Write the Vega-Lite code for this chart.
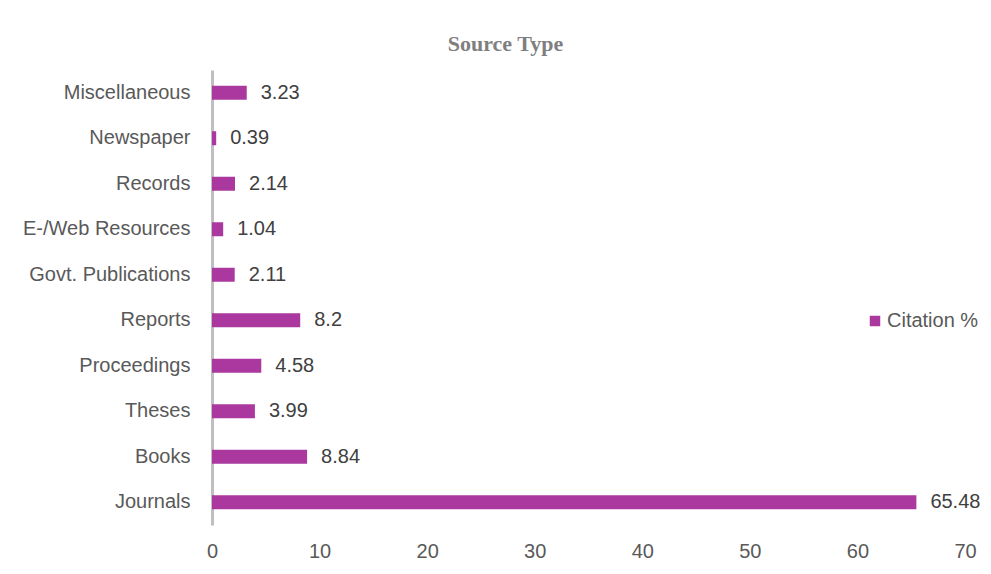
{
  "$schema": "https://vega.github.io/schema/vega-lite/v6.json",
  "autosize": "none",
  "width": 753,
  "height": 455,
  "padding": {"left": 212, "top": 70, "right": 26, "bottom": 49},
  "background": "white",
  "config": {"view": {"stroke": null}, "font": "Liberation Sans"},
  "title": {
    "text": "Source Type",
    "font": "Liberation Serif",
    "fontSize": 22,
    "fontWeight": "bold",
    "color": "#7f7f7f",
    "anchor": "middle",
    "dx": -83,
    "offset": 14
  },
  "data": {
    "values": [
      {"source": "Miscellaneous", "value": 3.23, "series": "Citation %"},
      {"source": "Newspaper", "value": 0.39, "series": "Citation %"},
      {"source": "Records", "value": 2.14, "series": "Citation %"},
      {"source": "E-/Web Resources", "value": 1.04, "series": "Citation %"},
      {"source": "Govt. Publications", "value": 2.11, "series": "Citation %"},
      {"source": "Reports", "value": 8.2, "series": "Citation %"},
      {"source": "Proceedings", "value": 4.58, "series": "Citation %"},
      {"source": "Theses", "value": 3.99, "series": "Citation %"},
      {"source": "Books", "value": 8.84, "series": "Citation %"},
      {"source": "Journals", "value": 65.48, "series": "Citation %"}
    ]
  },
  "encoding": {
    "y": {
      "field": "source",
      "type": "nominal",
      "sort": null,
      "title": null,
      "axis": {
        "domain": true,
        "domainColor": "#bfbfbf",
        "domainWidth": 3,
        "ticks": false,
        "labelPadding": 22,
        "labelFontSize": 20,
        "labelColor": "#595959",
        "labelFont": "Liberation Sans"
      }
    },
    "x": {
      "field": "value",
      "type": "quantitative",
      "scale": {"domain": [0, 70], "nice": false},
      "title": null,
      "axis": {
        "values": [0, 10, 20, 30, 40, 50, 60, 70],
        "domain": false,
        "ticks": false,
        "grid": false,
        "labelFlush": false,
        "labelPadding": 16,
        "labelFontSize": 20,
        "labelColor": "#595959",
        "labelFont": "Liberation Sans"
      }
    }
  },
  "layer": [
    {
      "mark": {"type": "bar", "size": 14},
      "encoding": {
        "color": {
          "field": "series",
          "type": "nominal",
          "scale": {"range": ["#aa389f"]},
          "legend": {
            "title": null,
            "orient": "none",
            "legendX": 653,
            "legendY": 241,
            "symbolType": "square",
            "symbolSize": 110,
            "labelFontSize": 20,
            "labelColor": "#595959",
            "labelFont": "Liberation Sans",
            "labelOffset": 2
          }
        }
      }
    },
    {
      "mark": {"type": "text", "align": "left", "dx": 14, "fontSize": 20, "color": "#404040", "font": "Liberation Sans"},
      "encoding": {"text": {"field": "value", "type": "quantitative"}}
    }
  ]
}
